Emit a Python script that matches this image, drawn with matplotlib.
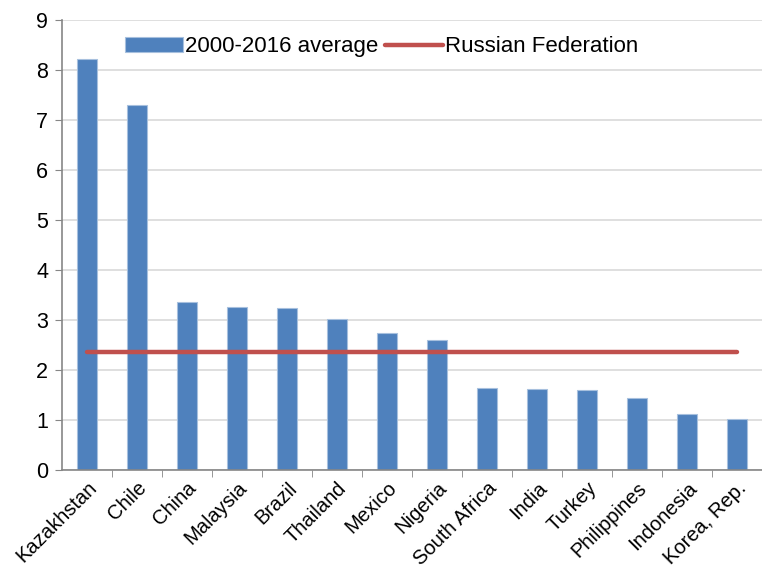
import matplotlib
matplotlib.use("Agg")
import matplotlib.pyplot as plt
import numpy as np

# data
countries = ["Kazakhstan", "Chile", "China", "Malaysia", "Brazil", "Thailand",
             "Mexico", "Nigeria", "South Africa", "India", "Turkey",
             "Philippines", "Indonesia", "Korea, Rep."]
avg_2000_2016 = [8.23, 7.30, 3.36, 3.26, 3.24, 3.03, 2.75, 2.60,
                 1.64, 1.63, 1.61, 1.45, 1.13, 1.02]
russia = 2.36

plt.rcParams['font.family'] = ['Liberation Sans', 'DejaVu Sans']

fig = plt.figure(figsize=(7.62, 5.69), dpi=100)
ax = fig.add_axes([62 / 762, 1 - 470 / 569, 1 - 62 / 762, 450 / 569])

x = np.arange(len(countries))
bars = ax.bar(x, avg_2000_2016, width=0.4, color='#4F81BD', edgecolor='#A7C0DE',
              linewidth=0.8, label='2000-2016 average', zorder=2)
line, = ax.plot(x, [russia] * len(x), color='#C0504D', linewidth=3.2,
                solid_capstyle='round', label='Russian Federation', zorder=3)

ax.set_xlim(-0.5, len(countries) - 0.5)
ax.set_ylim(0, 9)
ax.set_yticks(range(10))
ax.tick_params(axis='y', labelsize=15.5, length=5, color='#868686', pad=5)
ax.grid(axis='y', color='#D9D9D9', linewidth=1.2, zorder=0)
ax.set_axisbelow(True)

# category labels, ticks sit between the categories
ax.set_xticks(x)
ax.set_xticklabels(countries, rotation=45, ha='right', rotation_mode='anchor',
                   fontsize=14.5)
ax.tick_params(axis='x', which='major', length=0, pad=6)
ax.set_xticks(np.arange(0.5, len(countries) - 0.5), minor=True)
ax.tick_params(axis='x', which='minor', length=5, color='#868686')

for side in ['top', 'right']:
    ax.spines[side].set_visible(False)
for side in ['left', 'bottom']:
    ax.spines[side].set_color('#868686')
    ax.spines[side].set_linewidth(1.2)

ax.legend([bars, line], ['2000-2016 average', 'Russian Federation'],
          loc='upper center', bbox_to_anchor=(0.457, 1.008), ncol=2, frameon=False,
          fontsize=16, handlelength=2.6, handletextpad=0.1, columnspacing=0.3)

fig.savefig('out.png', dpi=100)
